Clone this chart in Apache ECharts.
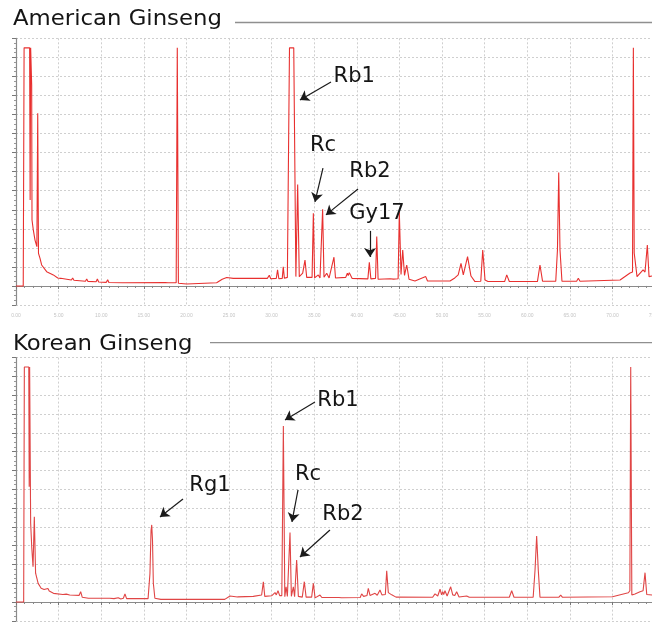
<!DOCTYPE html>
<html>
<head>
<meta charset="utf-8">
<title>Ginseng HPLC chromatograms</title>
<script src="https://cdn.jsdelivr.net/npm/echarts@6/dist/echarts.min.js"></script>
<style>
  html, body { margin: 0; padding: 0; background: #fff; }
  #chart { width: 652px; height: 624px; }
</style>
</head>
<body>
<div id="chart"></div>
<script>
// Panel titles
const panelTitles = ['American Ginseng', 'Korean Ginseng'];

// Retention time (min) / detector signal (mAU) vertices of each trace.
// Readings above 1250 mAU are clipped by the detector.
const americanTrace = [
  [0, 0], [0.85, 0], [0.95, 1250], [1.6, 1250], [1.66, 451], [1.72, 1250], [1.8, 1250],
  [1.84, 1055], [1.88, 346], [2.03, 294], [2.23, 241], [2.45, 206], [2.55, 907], [2.64, 171],
  [2.82, 145], [3.01, 110], [3.2, 101], [3.6, 75], [4.38, 58], [4.9, 42], [5.08, 52], [5.25, 40],
  [5.95, 35], [6.5, 31], [6.65, 42], [6.8, 30], [8.15, 25], [8.3, 37], [8.45, 24], [9.4, 22],
  [9.55, 36], [9.7, 21], [10.6, 19], [10.76, 33], [10.9, 18], [12.5, 17], [12.65, 24], [12.8, 17],
  [17.5, 18], [17.68, 28], [17.85, 17], [18.8, 17], [18.93, 1250], [19.06, 14], [20.03, 10],
  [23.55, 17], [24.2, 35], [24.73, 44], [25.5, 40], [29.5, 40], [29.73, 56], [29.9, 38],
  [30.55, 40], [30.7, 84], [30.85, 38], [31.25, 40], [31.37, 101], [31.5, 40], [31.85, 45],
  [32.1, 1250], [32.6, 1250], [32.85, 49], [33.06, 532], [33.25, 49], [33.65, 67], [33.92, 136],
  [34.12, 45], [34.75, 45], [34.9, 382], [35.05, 42], [35.48, 58], [35.68, 42], [35.85, 45],
  [35.99, 403], [36.15, 46], [36.47, 67], [36.75, 42], [37.32, 151], [37.5, 42], [38.7, 45],
  [38.89, 67], [39.0, 55], [39.12, 70], [39.44, 40], [41.3, 37], [41.47, 124], [41.65, 37],
  [42.2, 40], [42.34, 259], [42.5, 35], [43.9, 38], [44.1, 47], [44.3, 36], [44.85, 38],
  [44.99, 388], [45.19, 60], [45.39, 189], [45.6, 55], [45.86, 110], [46.13, 35], [46.83, 26],
  [48.09, 49], [48.3, 26], [50.94, 26], [51.5, 42], [51.9, 58], [52.23, 119], [52.5, 58],
  [53.0, 154], [53.4, 52], [53.87, 23], [54.55, 25], [54.78, 189], [55.05, 31], [55.4, 23],
  [57.35, 23], [57.6, 58], [57.9, 23], [61.2, 23], [61.5, 110], [61.8, 25], [63.35, 25],
  [63.55, 189], [63.7, 595], [63.85, 189], [64.08, 25], [65.8, 25], [66.0, 40], [66.2, 25],
  [70.9, 31], [72.07, 68], [72.36, 73], [72.46, 1250], [72.56, 173], [72.89, 49], [73.6, 84],
  [73.83, 73], [74.1, 215], [74.3, 49], [75, 55]
];

const koreanTrace = [
  [0, 0], [0.9, 0], [0.98, 1250], [1.5, 1250], [1.55, 613], [1.6, 1250], [1.66, 1250],
  [1.72, 420], [1.85, 290], [2.0, 188], [2.15, 454], [2.3, 153], [2.6, 99], [2.95, 73],
  [3.15, 82], [3.3, 66], [3.75, 72], [3.9, 58], [4.4, 46], [5.5, 40], [5.9, 42], [6.3, 37],
  [7.4, 35], [7.59, 55], [7.78, 25], [8.5, 20], [11.0, 20], [11.23, 28], [11.5, 18], [12.0, 23],
  [12.3, 16], [12.6, 20], [12.79, 43], [12.98, 18], [15.5, 18], [15.72, 150], [15.85, 380],
  [15.93, 410], [16.02, 330], [16.12, 100], [16.3, 20], [17.0, 14], [24.5, 14], [25.12, 32],
  [26.0, 27], [27.85, 30], [28.83, 37], [29.03, 108], [29.2, 30], [30.0, 33], [30.2, 36],
  [30.4, 50], [30.55, 38], [30.75, 60], [30.95, 34], [31.2, 34], [31.38, 936], [31.55, 28],
  [31.7, 81], [31.85, 30], [32.16, 369], [32.32, 30], [32.55, 81], [32.7, 28], [32.94, 223],
  [33.14, 30], [33.6, 26], [33.84, 108], [34.05, 26], [34.7, 26], [34.9, 99], [35.1, 22],
  [35.68, 37], [35.9, 24], [37.9, 24], [38.03, 30], [38.2, 23], [40.4, 24], [40.57, 43],
  [40.8, 30], [41.2, 35], [41.35, 73], [41.55, 35], [42.14, 46], [42.4, 36], [42.72, 64],
  [42.95, 38], [43.35, 40], [43.51, 166], [43.7, 50], [43.9, 49], [44.1, 38], [44.29, 46],
  [44.6, 26], [48.9, 25], [49.18, 43], [49.5, 32], [49.77, 68], [49.95, 38], [50.08, 55],
  [50.2, 40], [50.35, 60], [50.6, 32], [51.02, 81], [51.26, 38], [51.5, 35], [51.72, 55],
  [52.0, 27], [52.9, 32], [53.2, 25], [57.9, 25], [58.18, 60], [58.45, 25], [60.7, 25],
  [60.92, 170], [61.11, 351], [61.3, 170], [61.5, 25], [63.7, 25], [63.93, 37], [64.15, 25],
  [70.0, 28], [71.87, 49], [72.05, 60], [72.15, 1250], [72.28, 37], [72.65, 43], [73.24, 55],
  [73.6, 60], [73.83, 156], [74.03, 40], [75, 36]
];

// Ginsenoside names called out on each trace
const americanPeaks = ['Rb1', 'Rc', 'Rb2', 'Gy17'];
const koreanPeaks = ['Rg1', 'Rb1', 'Rc', 'Rb2'];

// Callout placement in data units: text centre, arrow tail, arrow tip
const americanCallouts = {
  Rb1:  { text: [39.7, 1097], tail: [36.97, 1071], tip: [33.33, 976] },
  Rc:   { text: [36.03, 735], tail: [36.03, 619], tip: [35.09, 441] },
  Rb2:  { text: [41.55, 598], tail: [40.14, 509], tip: [36.38, 373] },
  Gy17: { text: [42.37, 378], tail: [41.55, 289], tip: [41.55, 152] }
};
const koreanCallouts = {
  Rg1: { text: [22.77, 617], tail: [19.6, 548], tip: [16.9, 452] },
  Rb1: { text: [37.79, 1074], tail: [35.09, 1064], tip: [31.57, 968] },
  Rc:  { text: [34.27, 676], tail: [33.1, 596], tip: [32.39, 426] },
  Rb2: { text: [38.38, 463], tail: [36.85, 383], tip: [33.33, 239] }
};

const FONT = '"DejaVu Sans", "Liberation Sans", sans-serif';
const GRID_LINE = { show: true, lineStyle: { color: '#cfcfcf', width: 1, type: [2, 2] } };

function xAxisFor(gridIndex, showLabels) {
  return {
    type: 'value', gridIndex, min: 0, max: 75, interval: 5, offset: 5,
    axisLine: { show: true, lineStyle: { color: '#8a8a8a', width: 1.2 } },
    axisTick: { show: true, length: 3, lineStyle: { color: '#777' } },
    minorTick: { show: true, splitNumber: 5, length: 2, lineStyle: { color: '#888' } },
    axisLabel: {
      show: showLabels, fontSize: 5, color: '#c4c4c4', margin: 3,
      formatter: v => v.toFixed(2)
    },
    splitLine: GRID_LINE
  };
}

function yAxisFor(gridIndex) {
  return {
    type: 'value', gridIndex, min: -100, max: 1300, interval: 100,
    axisLine: { show: true, lineStyle: { color: '#8a8a8a', width: 1.2 } },
    axisTick: { show: true, length: 4, lineStyle: { color: '#777' } },
    minorTick: { show: true, splitNumber: 4, length: 2, lineStyle: { color: '#999' } },
    axisLabel: { show: false },
    splitLine: GRID_LINE
  };
}

function traceSeries(idx, trace, color, names, callouts) {
  return {
    type: 'line', xAxisIndex: idx, yAxisIndex: idx,
    data: trace, showSymbol: false, symbol: 'none', smooth: false,
    lineStyle: { color, width: 1.1 },
    emphasis: { disabled: true },
    silent: true,
    markLine: {
      silent: true, animation: false,
      symbol: ['none', 'arrow'], symbolSize: 9,
      itemStyle: { color: '#1a1a1a' },
      label: { show: false },
      lineStyle: { color: '#1a1a1a', width: 1.2, type: 'solid' },
      emphasis: { disabled: true },
      data: names.map(n => [{ coord: callouts[n].tail }, { coord: callouts[n].tip }])
    },
    markPoint: {
      silent: true, animation: false,
      symbol: 'circle', symbolSize: 0,
      itemStyle: { color: 'transparent' },
      label: {
        show: true, position: 'inside', formatter: p => p.name,
        fontFamily: FONT, fontSize: 21, color: '#151515'
      },
      data: names.map(n => ({ name: n, coord: callouts[n].text }))
    }
  };
}

const chart = echarts.init(document.getElementById('chart'), null, { renderer: 'canvas' });

chart.setOption({
  animation: false,
  backgroundColor: '#ffffff',
  grid: [
    { left: 16, width: 639, top: 38.3, height: 266.7, outerBoundsMode: 'none', containLabel: false },
    { left: 16, width: 639, top: 357.6, height: 263.2, outerBoundsMode: 'none', containLabel: false }
  ],
  xAxis: [xAxisFor(0, true), xAxisFor(1, false)],
  yAxis: [yAxisFor(0), yAxisFor(1)],
  series: [
    traceSeries(0, americanTrace, '#e8302f', americanPeaks, americanCallouts),
    traceSeries(1, koreanTrace, '#e04545', koreanPeaks, koreanCallouts)
  ],
  graphic: [
    {
      type: 'text', x: 13, y: 19.5, scaleX: 1.085, silent: true,
      style: { text: panelTitles[0], font: '21px ' + FONT, fill: '#151515', align: 'left', verticalAlign: 'middle' }
    },
    {
      type: 'line', silent: true,
      shape: { x1: 235, y1: 22.5, x2: 652, y2: 22.5 },
      style: { stroke: '#8f8f8f', lineWidth: 1.3 }
    },
    {
      type: 'text', x: 13, y: 344.5, scaleX: 1.085, silent: true,
      style: { text: panelTitles[1], font: '21px ' + FONT, fill: '#151515', align: 'left', verticalAlign: 'middle' }
    },
    {
      type: 'line', silent: true,
      shape: { x1: 210, y1: 342.7, x2: 652, y2: 342.7 },
      style: { stroke: '#8f8f8f', lineWidth: 1.3 }
    }
  ]
});
</script>
</body>
</html>
